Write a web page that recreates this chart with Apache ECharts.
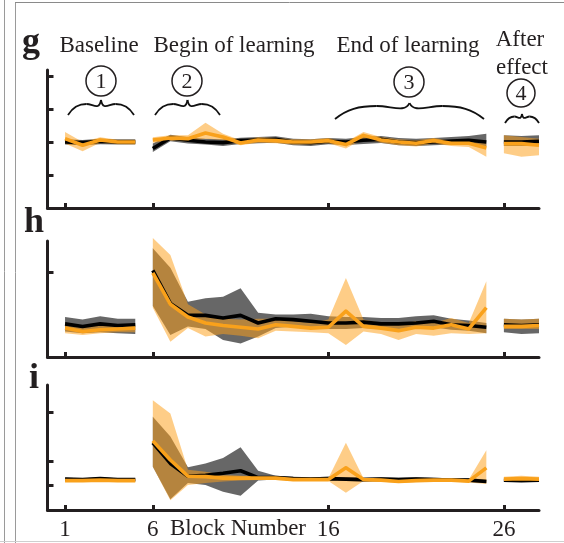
<!DOCTYPE html>
<html>
<head>
<meta charset="utf-8">
<script src="https://cdn.jsdelivr.net/npm/echarts@6/dist/echarts.min.js"></script>
<style>
html, body {margin: 0; padding: 0; background: #fff;}
#chart {width: 564px; height: 543px;}
</style>
</head>
<body>
<div id="chart"></div>
<script>
var blocks = [1,2,3,4,5, 6,7,8,9,10,11,12,13,14,15,16,17,18,19,20,21,22,23,24,25, 26,27,28];
var segStarts = [1, 6, 26];   // baseline, learning, after effect
var xTicks = [1, 6, 16, 26];

// panel g
var gBlack    = [2.00,1.98,2.02,2.00,2.00, 1.80,2.12,2.05,2.00,1.98,2.04,2.06,2.08,2.00,1.98,2.02,2.00,2.05,2.08,2.00,1.98,2.00,2.03,2.05,2.00, 2.00,2.00,2.02];
var gBlackLo  = [1.92,1.90,1.93,1.92,1.92, 1.70,2.02,1.95,1.92,1.88,1.94,1.96,1.98,1.90,1.88,1.93,1.91,1.94,1.97,1.90,1.88,1.90,1.92,1.92,1.87, 1.88,1.88,1.88];
var gBlackHi  = [2.08,2.06,2.10,2.08,2.08, 1.95,2.22,2.14,2.10,2.08,2.13,2.15,2.17,2.10,2.08,2.12,2.10,2.15,2.18,2.12,2.10,2.12,2.15,2.18,2.25, 2.20,2.18,2.20];
var gOrange   = [2.10,1.90,2.06,2.00,2.00, 2.06,2.12,2.10,2.27,2.15,1.97,2.06,2.04,2.00,2.00,2.04,1.92,2.20,2.06,2.00,1.96,2.04,1.96,1.96,1.82, 1.95,1.95,1.90];
var gOrangeLo = [1.95,1.72,1.98,1.93,1.92, 1.98,2.04,2.02,2.10,2.06,1.90,1.98,1.96,1.92,1.92,1.96,1.80,2.10,1.98,1.90,1.86,1.95,1.88,1.85,1.55, 1.66,1.55,1.60];
var gOrangeHi = [2.30,2.00,2.14,2.07,2.07, 2.14,2.20,2.20,2.58,2.25,2.05,2.14,2.12,2.08,2.08,2.12,2.00,2.30,2.15,2.08,2.05,2.12,2.04,2.05,1.95, 2.20,2.15,2.10];
var gTicks = [1, 2, 3, 4];

// panel h
var hBlack    = [.39,.36,.39,.37,.38, 1.02,.63,.49,.49,.46,.49,.40,.45,.44,.42,.40,.40,.41,.39,.39,.40,.42,.38,.37,.35, .38,.37,.38];
var hBlackLo  = [.30,.28,.29,.28,.27, .60,.26,.36,.33,.20,.16,.24,.34,.36,.35,.33,.33,.34,.33,.33,.34,.35,.32,.31,.28, .29,.27,.28];
var hBlackHi  = [.47,.44,.48,.45,.45, 1.28,1.05,.65,.69,.71,.81,.52,.50,.50,.51,.48,.47,.47,.46,.46,.48,.49,.45,.43,.40, .45,.44,.45];
var hOrange   = [.34,.30,.32,.33,.34, .99,.62,.47,.40,.37,.35,.33,.38,.36,.34,.35,.54,.36,.34,.31,.35,.34,.38,.33,.58, .36,.36,.37];
var hOrangeLo = [.28,.26,.28,.29,.29, .58,.18,.34,.24,.27,.25,.22,.31,.30,.29,.28,.14,.30,.27,.20,.27,.25,.28,.27,.28, .33,.33,.33];
var hOrangeHi = [.40,.36,.38,.38,.38, 1.40,1.20,.62,.50,.45,.44,.45,.45,.42,.40,.44,.93,.44,.40,.38,.42,.40,.46,.40,.89, .45,.44,.45];
var hTicks = [1];

// panel i
var iBlack    = [.63,.62,.64,.62,.62, 1.37,.95,.69,.71,.75,.80,.66,.66,.64,.63,.64,.63,.62,.63,.62,.63,.62,.61,.61,.58, .61,.60,.61];
var iBlackLo  = [.60,.59,.61,.59,.59, .88,.22,.55,.51,.37,.29,.60,.62,.60,.60,.60,.59,.58,.59,.58,.59,.58,.57,.57,.55, .58,.57,.58];
var iBlackHi  = [.66,.65,.67,.65,.65, 1.90,1.50,.87,.95,1.06,1.28,.80,.70,.68,.67,.68,.67,.66,.67,.66,.67,.66,.65,.65,.62, .64,.63,.64];
var iOrange   = [.60,.60,.61,.60,.60, 1.41,1.02,.69,.68,.65,.65,.65,.65,.62,.62,.62,.86,.62,.61,.58,.60,.61,.61,.59,.86, .63,.64,.63];
var iOrangeLo = [.57,.57,.58,.57,.57, .88,.20,.51,.55,.58,.60,.61,.61,.59,.59,.59,.35,.59,.58,.55,.57,.58,.58,.56,.53, .60,.60,.60];
var iOrangeHi = [.63,.63,.64,.63,.63, 2.24,1.97,.82,.78,.72,.70,.69,.69,.65,.65,.65,1.37,.65,.64,.61,.63,.64,.64,.62,1.22, .68,.70,.68];
var iTicks = [0.5, 1, 2];

var axisColor = '#231f20';
var grayBand = 'rgba(78,78,78,0.86)';
var orangeBand = 'rgba(253,160,25,0.52)';
var orangeLine = '#f9a11b';
var serif = '"Liberation Serif", "DejaVu Serif", serif';

// split block indices into the three segments
var segs = [];
blocks.forEach(function (b, i) {
    if (segStarts.indexOf(b) >= 0) segs.push([]);
    segs[segs.length - 1].push(i);
});

var series = [];
// shaded spread: one polygon per segment, through the axes' coord()
function band(k, lo, hi, color) {
    series.push({
        type: 'custom', coordinateSystem: 'cartesian2d', xAxisIndex: k, yAxisIndex: k,
        silent: true, clip: false,
        data: segs.map(function (idx, s) { return [blocks[idx[0]], lo[idx[0]], s]; }),
        renderItem: function (params, api) {
            var idx = segs[api.value(2)];
            var top = idx.map(function (i) { return api.coord([blocks[i], hi[i]]); });
            var bot = idx.map(function (i) { return api.coord([blocks[i], lo[i]]); }).reverse();
            return {type: 'polygon', shape: {points: top.concat(bot)}, style: {fill: color}};
        }
    });
}
function line(k, vals, color) {
    segs.forEach(function (idx) {
        series.push({
            type: 'line', xAxisIndex: k, yAxisIndex: k,
            data: idx.map(function (i) { return [blocks[i], vals[i]]; }),
            symbol: 'none', lineStyle: {color: color, width: 3.6, join: 'round'}, silent: true, clip: false
        });
    });
}

var panels = [
    {top: 70, height: 138, max: 4.18, ticks: gTicks, d: [gBlack, gBlackLo, gBlackHi, gOrange, gOrangeLo, gOrangeHi]},
    {top: 241, height: 116, max: 1.365, ticks: hTicks, d: [hBlack, hBlackLo, hBlackHi, hOrange, hOrangeLo, hOrangeHi]},
    {top: 385, height: 125, max: 2.55, ticks: iTicks, d: [iBlack, iBlackLo, iBlackHi, iOrange, iOrangeLo, iOrangeHi]}
];

var grids = [], xAxes = [], yAxes = [];
panels.forEach(function (p, k) {
    grids.push({left: 47.5, right: 25, top: p.top, height: p.height});
    xAxes.push({
        type: 'value', gridIndex: k, min: 0, max: 28,
        axisLine: {onZero: false, lineStyle: {color: axisColor, width: 3}},
        axisTick: {inside: true, length: 5, customValues: xTicks, lineStyle: {color: axisColor, width: 3}},
        axisLabel: {show: k === 2, customValues: xTicks, color: axisColor, fontFamily: serif, fontSize: 23, margin: 8},
        splitLine: {show: false}
    });
    yAxes.push({
        type: 'value', gridIndex: k, min: 0, max: p.max,
        axisLine: {show: true, onZero: false, lineStyle: {color: axisColor, width: 3}},
        axisTick: {show: true, inside: true, length: 6, customValues: p.ticks, lineStyle: {color: axisColor, width: 3}},
        axisLabel: {show: false},
        splitLine: {show: false}
    });
    band(k, p.d[1], p.d[2], grayBand);
    line(k, p.d[0], '#000');
    band(k, p.d[4], p.d[5], orangeBand);
    line(k, p.d[3], orangeLine);
});

function txt(s, x, y, size, weight) {
    return {
        type: 'text', x: x, y: y, silent: true,
        style: {text: s, fill: '#231f20', font: (weight || 'normal') + ' ' + size + 'px ' + serif,
                textAlign: 'center', textVerticalAlign: 'middle'}
    };
}
function circ(cx, cy, r, n) {
    return [
        {type: 'circle', shape: {cx: cx, cy: cy, r: r}, style: {fill: 'none', stroke: '#231f20', lineWidth: 1.5}, silent: true},
        txt(n, cx, cy + 1, 22)
    ];
}
function brace(x0, x1, yb, yh, yd, yt) {
    var w = x1 - x0, xc = (x0 + x1) / 2;
    var st = {stroke: '#111', lineWidth: 1.8, fill: 'none'};
    var out = [];
    [1, -1].forEach(function (s) {
        var e = s > 0 ? x0 : x1;
        out.push({type: 'bezierCurve', silent: true, style: st, shape: {
            x1: e, y1: yb, cpx1: e + s * 0.08 * w, cpy1: yb - 0.75 * (yb - yh), cpx2: e + s * 0.16 * w, cpy2: yh,
            x2: e + s * 0.28 * w, y2: yh}});
        out.push({type: 'bezierCurve', silent: true, style: st, shape: {
            x1: e + s * 0.28 * w, y1: yh, cpx1: e + s * 0.38 * w, cpy1: yh, cpx2: e + s * 0.47 * w, cpy2: yd + 3,
            x2: xc, y2: yt}});
    });
    return out;
}

var graphics = [
    {type: 'line', shape: {x1: 4.5, y1: 0, x2: 4.5, y2: 543}, style: {stroke: '#9a9a9a', lineWidth: 1}, silent: true},
    {type: 'line', shape: {x1: 15.5, y1: 2, x2: 15.5, y2: 543}, style: {stroke: '#9a9a9a', lineWidth: 1}, silent: true},
    {type: 'line', shape: {x1: 15, y1: 2.5, x2: 564, y2: 2.5}, style: {stroke: '#8a8a8a', lineWidth: 1}, silent: true},
    {type: 'line', shape: {x1: 0, y1: 541.5, x2: 564, y2: 541.5}, style: {stroke: '#cfcfcf', lineWidth: 1}, silent: true},
    txt('g', 31, 43, 36, 'bold'),
    txt('h', 34, 223, 36, 'bold'),
    txt('i', 34, 379, 36, 'bold'),
    txt('Baseline', 99, 46, 23),
    txt('Begin of learning', 234, 46, 23),
    txt('End of learning', 408, 46, 23),
    txt('After', 520, 40, 23),
    txt('effect', 522, 68, 23),
    txt('Block Number', 238, 529, 23)
];
graphics = graphics
    .concat(circ(101, 81, 15, '1'), circ(187, 81, 15, '2'), circ(409, 82, 15, '3'), circ(521, 93, 14, '4'))
    .concat(brace(68, 134, 115, 104, 108, 100), brace(155, 220, 115, 104, 108, 100),
            brace(335, 484, 119, 106, 110, 103), brace(505, 539, 123, 116.5, 118, 114));

var option = {
    animation: false,
    backgroundColor: '#fff',
    grid: grids,
    xAxis: xAxes,
    yAxis: yAxes,
    series: series,
    graphic: graphics
};

var chart = echarts.init(document.getElementById('chart'));
chart.setOption(option);
</script>
</body>
</html>
